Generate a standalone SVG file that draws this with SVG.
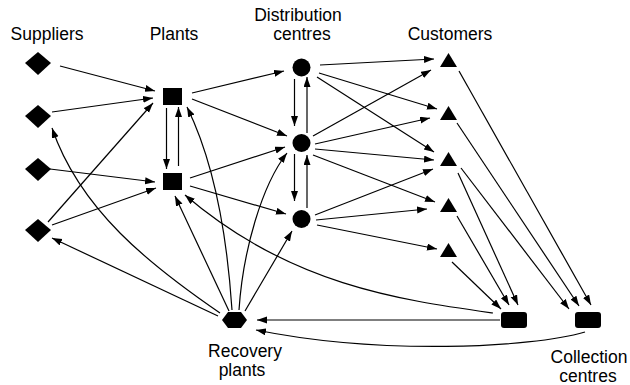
<svg xmlns="http://www.w3.org/2000/svg" width="630" height="385" viewBox="0 0 630 385">
<style>
text{font-family:"Liberation Sans",Arial,sans-serif;font-size:17.5px;fill:#000;text-anchor:middle}
.n{fill:#000}
.e path{fill:none;stroke:#000;stroke-width:1.2;marker-end:url(#ah)}
</style>
<defs>
<marker id="ah" markerUnits="userSpaceOnUse" markerWidth="11" markerHeight="8" refX="10" refY="3.5" orient="auto">
<path d="M0,0 L10,3.5 L0,7 z" fill="#000"/>
</marker>
</defs>
<rect width="630" height="385" fill="#fff"/>
<g id="labels">
<text x="47" y="40">Suppliers</text>
<text x="174" y="40">Plants</text>
<text x="298" y="21">Distribution</text>
<text x="302" y="40">centres</text>
<text x="450" y="40">Customers</text>
<text x="245" y="357">Recovery</text>
<text x="242" y="376">plants</text>
<text x="589" y="363">Collection</text>
<text x="588" y="382">centres</text>
</g>
<g id="s1" class="n"><polygon points="38,52 51,63 38,75 25,63"/></g>
<g id="s2" class="n"><polygon points="38,105 51,116 38,128 25,116"/></g>
<g id="s3" class="n"><polygon points="38,158 51,169 38,181 25,169"/></g>
<g id="s4" class="n"><polygon points="38,219 51,230 38,242 25,230"/></g>
<g id="p1" class="n"><rect x="163" y="88" width="19" height="17"/></g>
<g id="p2" class="n"><rect x="163" y="173" width="19" height="17"/></g>
<g id="d1" class="n"><circle cx="301.5" cy="67.5" r="9"/></g>
<g id="d2" class="n"><circle cx="301.5" cy="143" r="9"/></g>
<g id="d3" class="n"><circle cx="301.5" cy="219" r="9"/></g>
<g id="c1" class="n"><polygon points="448.5,53 457,67 440,67"/></g>
<g id="c2" class="n"><polygon points="448.5,106 457,120 440,120"/></g>
<g id="c3" class="n"><polygon points="448.5,152 457,166 440,166"/></g>
<g id="c4" class="n"><polygon points="448.5,198 457,212 440,212"/></g>
<g id="c5" class="n"><polygon points="448.5,243 457,257 440,257"/></g>
<g id="cc1" class="n"><rect x="501" y="312" width="26" height="16" rx="3"/></g>
<g id="cc2" class="n"><rect x="575" y="312" width="26" height="16" rx="3"/></g>
<g id="rp" class="n"><polygon points="222,320 228,312 241,312 247,320 241,328 228,328"/></g>
<g id="connectors" class="e">
<path d="M60,66 L155,91"/>
<path d="M52,112 L153,98"/>
<path d="M50,169 L155,182"/>
<path d="M48,222 L153,103"/>
<path d="M52,225 L156,188"/>
<path d="M166.5,108 L166.5,169"/>
<path d="M178.5,166 L178.5,107"/>
<path d="M192,93 L284,71"/>
<path d="M192,99 L287,136"/>
<path d="M190,178 L285,147"/>
<path d="M190,186 L286,214"/>
<path d="M294.5,79 L294.5,126"/>
<path d="M307,133 L307,77"/>
<path d="M294.5,154 L294.5,201"/>
<path d="M307,208 L307,155"/>
<path d="M320,65 L434,59"/>
<path d="M319,73 L437,109"/>
<path d="M317,77 L434,152"/>
<path d="M313,136 L431,70"/>
<path d="M315,144 L430,118"/>
<path d="M315,149 L434,160"/>
<path d="M313,155 L435,202"/>
<path d="M315,215 L433,169"/>
<path d="M316,220 L427,209"/>
<path d="M317,225 L437,249"/>
<path d="M459,71 L591,305"/>
<path d="M457,123 L579,306"/>
<path d="M458,173 L518,305"/>
<path d="M461,168 L569,309"/>
<path d="M457,216 L509,305"/>
<path d="M452,262 L501,309"/>
<path d="M500,320 L257,320"/>
<path d="M585,332 C530,348 380,355 256,330"/>
<path d="M493,313 C400,300 290,285 185,195"/>
<path d="M218,316 L52,238"/>
<path d="M220,313 C150,265 80,210 52,128"/>
<path d="M229,311 L175,196"/>
<path d="M232,310 C228,250 218,170 187,107"/>
<path d="M239,310 C243,250 262,185 287,153"/>
<path d="M245,311 L292,231"/>
</g>
</svg>
